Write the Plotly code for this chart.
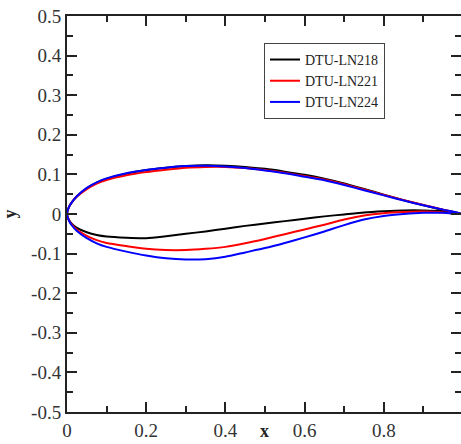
import plotly.graph_objects as go

# Chordwise stations (shared by upper and lower surfaces)
x_st = [0.0, 0.005, 0.0125, 0.025, 0.05, 0.075, 0.1, 0.15, 0.2, 0.25, 0.3, 0.35,
        0.4, 0.45, 0.5, 0.55, 0.6, 0.65, 0.7, 0.75, 0.8, 0.85, 0.9, 0.95, 1.0]

# DTU-LN218
ln218_upper = [0.0, 0.018, 0.030, 0.045, 0.065, 0.079, 0.089, 0.102, 0.111, 0.117, 0.121, 0.123,
               0.122, 0.119, 0.114, 0.107, 0.099, 0.089, 0.077, 0.063, 0.049, 0.035, 0.022, 0.010, 0.0]
ln218_lower = [0.0, -0.015, -0.025, -0.035, -0.046, -0.053, -0.057, -0.060, -0.061, -0.056, -0.050, -0.044,
               -0.037, -0.030, -0.024, -0.018, -0.012, -0.006, -0.001, 0.004, 0.007, 0.009, 0.009, 0.007, 0.0]

# DTU-LN221
ln221_upper = [0.0, 0.018, 0.030, 0.044, 0.063, 0.077, 0.086, 0.098, 0.106, 0.112, 0.117, 0.119,
               0.119, 0.116, 0.111, 0.104, 0.096, 0.087, 0.075, 0.062, 0.048, 0.035, 0.023, 0.011, 0.0]
ln221_lower = [0.0, -0.016, -0.027, -0.040, -0.055, -0.066, -0.073, -0.081, -0.088, -0.091, -0.091, -0.088,
               -0.083, -0.074, -0.063, -0.051, -0.039, -0.027, -0.014, -0.004, 0.002, 0.005, 0.006, 0.004, 0.0]

# DTU-LN224
ln224_upper = [0.0, 0.018, 0.030, 0.045, 0.066, 0.080, 0.090, 0.103, 0.111, 0.117, 0.121, 0.122,
               0.120, 0.116, 0.110, 0.103, 0.094, 0.085, 0.073, 0.060, 0.047, 0.034, 0.022, 0.011, 0.0]
ln224_lower = [0.0, -0.017, -0.029, -0.043, -0.061, -0.074, -0.083, -0.095, -0.105, -0.112, -0.115, -0.114,
               -0.108, -0.097, -0.086, -0.073, -0.059, -0.044, -0.028, -0.014, -0.005, 0.000, 0.003, 0.003, 0.0]

names = ["DTU-LN218", "DTU-LN221", "DTU-LN224"]
colors = ["#000000", "#ff0000", "#0000ff"]
uppers = [ln218_upper, ln221_upper, ln224_upper]
lowers = [ln218_lower, ln221_lower, ln224_lower]

x_ticks = [0, 0.2, 0.4, 0.6, 0.8]
x_tick_text = ["0", "0.2", "0.4", "0.6", "0.8"]
y_ticks = [0.5, 0.4, 0.3, 0.2, 0.1, 0, -0.1, -0.2, -0.3, -0.4, -0.5]
y_tick_text = ["0.5", "0.4", "0.3", "0.2", "0.1", "0", "-0.1", "-0.2", "-0.3", "-0.4", "-0.5"]

fig = go.Figure()
for name, col, up, lo in zip(names, colors, uppers, lowers):
    xs = list(reversed(x_st)) + x_st[1:]
    ys = list(reversed(up)) + lo[1:]
    fig.add_trace(go.Scatter(x=xs, y=ys, mode="lines", name=name,
                             line=dict(color=col, width=2, shape="spline", smoothing=0.6)))

serif = "Liberation Serif"
axis_common = dict(
    showline=True, linewidth=2, linecolor="#222", mirror="ticks",
    ticks="inside", ticklen=10, tickwidth=2, tickcolor="#222",
    showgrid=False, zeroline=False,
    tickfont=dict(family=serif, size=19, color="#333"),
    automargin=False,
)

fig.update_xaxes(range=[0, 0.995], tickvals=x_ticks, ticktext=x_tick_text,
                 minor=dict(ticks="inside", ticklen=6, tickwidth=1.5, tickcolor="#222", dtick=0.1, tick0=0),
                 **axis_common)
fig.update_yaxes(range=[-0.5, 0.5], tickvals=y_ticks, ticktext=y_tick_text,
                 minor=dict(ticks="inside", ticklen=6, tickwidth=1.5, tickcolor="#222", dtick=0.05, tick0=0),
                 title=dict(text="<b>y</b>", font=dict(family=serif, size=18, color="#222"), standoff=10),
                 **axis_common)

fig.add_annotation(text="<b>x</b>", xref="paper", yref="paper", x=0.5, y=-0.079,
                   xanchor="center", yanchor="bottom", showarrow=False,
                   font=dict(family=serif, size=18, color="#222"))

fig.update_layout(
    width=461, height=444,
    margin=dict(l=67, r=0, t=16, b=32),
    paper_bgcolor="white", plot_bgcolor="white",
    legend=dict(x=0.5, y=0.932, xanchor="left", yanchor="top",
                bordercolor="#444", borderwidth=1, bgcolor="white",
                font=dict(family=serif, size=14, color="#222"),
                tracegroupgap=0, itemwidth=30),
)

fig.write_html("out.html")
